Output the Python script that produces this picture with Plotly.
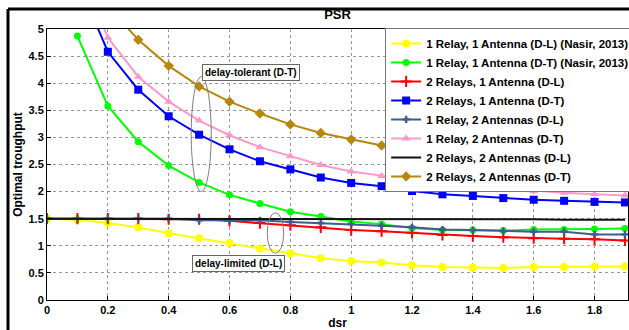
import plotly.graph_objects as go

dsr = [0.0, 0.1, 0.2, 0.3, 0.4, 0.5, 0.6, 0.7, 0.8, 0.9, 1.0,
       1.1, 1.2, 1.3, 1.4, 1.5, 1.6, 1.7, 1.8, 1.9]

r1a1_dl = [1.50, 1.48, 1.42, 1.34, 1.23, 1.14, 1.05, 0.95, 0.86, 0.77, 0.72,
           0.69, 0.64, 0.61, 0.60, 0.59, 0.61, 0.61, 0.62, 0.62]
r1a1_dt = [None, 4.87, 3.58, 2.92, 2.48, 2.17, 1.94, 1.78, 1.63, 1.54, 1.45,
           1.40, 1.33, 1.29, 1.29, 1.28, 1.30, 1.30, 1.31, 1.32]
r2a1_dl = [1.50, 1.50, 1.50, 1.50, 1.49, 1.49, 1.46, 1.42, 1.38, 1.34, 1.29,
           1.27, 1.24, 1.20, 1.18, 1.16, 1.14, 1.13, 1.12, 1.10]
r2a1_dt = [None, 5.90, 4.58, 3.88, 3.39, 3.05, 2.78, 2.56, 2.41, 2.26, 2.16,
           2.10, 2.01, 1.95, 1.92, 1.88, 1.85, 1.83, 1.81, 1.80]
r1a2_dl = [1.50, 1.50, 1.50, 1.50, 1.50, 1.47, 1.47, 1.47, 1.44, 1.42, 1.40,
           1.37, 1.34, 1.30, 1.29, 1.27, 1.26, 1.26, 1.21, 1.21]
r1a2_dt = [None, 6.20, 4.84, 4.12, 3.66, 3.31, 3.04, 2.82, 2.65, 2.49, 2.37,
           2.29, 2.21, 2.14, 2.10, 2.06, 2.01, 1.98, 1.95, 1.93]
r2a2_dl = [1.50, 1.50, 1.50, 1.50, 1.50, 1.50, 1.50, 1.50, 1.50, 1.50, 1.50,
           1.50, 1.50, 1.50, 1.49, 1.49, 1.49, 1.48, 1.48, 1.48]
r2a2_dt = [None, 6.80, 5.43, 4.80, 4.32, 3.94, 3.66, 3.44, 3.24, 3.08, 2.96,
           2.85, 2.77, 2.68, 2.59, 2.53, 2.47, 2.42, 2.36, 2.30]

names = ["1 Relay, 1 Antenna (D-L) (Nasir, 2013)",
         "1 Relay, 1 Antenna (D-T) (Nasir, 2013)",
         "2 Relays, 1 Antenna (D-L)",
         "2 Relays, 1 Antenna (D-T)",
         "1 Relay, 2 Antennas (D-L)",
         "1 Relay, 2 Antennas (D-T)",
         "2 Relays, 2 Antennas (D-L)",
         "2 Relays, 2 Antennas (D-T)"]
series = [r1a1_dl, r1a1_dt, r2a1_dl, r2a1_dt, r1a2_dl, r1a2_dt, r2a2_dl, r2a2_dt]
colors = ["#FFFF00", "#00FF00", "#FF0000", "#0000FF", "#3F5B8F", "#FF99CC", "#111111", "#B8860B"]
symbols = ["circle", "circle", "cross-thin", "square", "cross", "triangle-up", None, "diamond"]
msizes = [8, 7, 8, 8, 6, 8, 0, 8]

FONT = "Liberation Sans, Arial, sans-serif"

fig = go.Figure()
for nm, ys, c, s, ms in zip(names, series, colors, symbols, msizes):
    if s is None:
        fig.add_trace(go.Scatter(x=dsr, y=ys, name=nm, mode="lines",
                                 line=dict(color=c, width=2)))
    else:
        fig.add_trace(go.Scatter(x=dsr, y=ys, name=nm, mode="lines+markers",
                                 line=dict(color=c, width=2),
                                 marker=dict(symbol=s, size=ms, color=c,
                                             line=dict(color=c, width=2 if s == "cross-thin" else 0))))

fig.update_layout(
    width=629, height=330,
    margin=dict(l=47, r=1, t=29, b=30, autoexpand=False),
    paper_bgcolor="white", plot_bgcolor="white",
    font=dict(family=FONT, size=11, color="black", weight="bold"),
    title=dict(text="PSR", x=0.5, xref="paper", y=0.955, yref="container",
               xanchor="center", yanchor="middle",
               font=dict(family=FONT, size=13, color="black", weight="bold")),
    showlegend=True,
    legend=dict(x=0.582, y=1.004, xanchor="left", yanchor="top",
                bgcolor="white", bordercolor="#777777", borderwidth=1,
                font=dict(family=FONT, size=11.5, color="black", weight="bold"),
                tracegroupgap=0, itemwidth=30),
    xaxis=dict(range=[0, 1.91], tickvals=[0, 0.2, 0.4, 0.6, 0.8, 1, 1.2, 1.4, 1.6, 1.8],
               ticktext=["0", "0.2", "0.4", "0.6", "0.8", "1", "1.2", "1.4", "1.6", "1.8"],
               showgrid=True, gridcolor="#999999", griddash="dot", gridwidth=1,
               showline=True, linecolor="black", linewidth=1, mirror=True,
               ticks="inside", ticklen=4, tickcolor="black",
               zeroline=False,
               title=dict(text="dsr", standoff=4, font=dict(size=12, weight="bold"))),
    yaxis=dict(range=[0, 5], tickvals=[0, 0.5, 1, 1.5, 2, 2.5, 3, 3.5, 4, 4.5, 5],
               ticktext=["0", "0.5", "1", "1.5", "2", "2.5", "3", "3.5", "4", "4.5", "5"],
               showgrid=True, gridcolor="#999999", griddash="dot", gridwidth=1,
               showline=True, linecolor="black", linewidth=1, mirror=True,
               ticks="inside", ticklen=4, tickcolor="black",
               zeroline=False,
               title=dict(text="Optimal troughput", standoff=3, font=dict(size=12, weight="bold"))),
)

# ellipses marking groups
fig.add_shape(type="circle", xref="x", yref="y", x0=0.474, x1=0.540, y0=2.0, y1=4.12,
              line=dict(color="#808080", width=1), layer="above")
fig.add_shape(type="circle", xref="x", yref="y", x0=0.724, x1=0.778, y0=0.86, y1=1.61,
              line=dict(color="#808080", width=1), layer="above")

fig.add_annotation(x=0.672, y=4.19, xref="x", yref="y", text="delay-tolerant (D-T)",
                   showarrow=False, bgcolor="white", bordercolor="#666666", borderwidth=1,
                   borderpad=2, font=dict(family=FONT, size=10, color="black", weight="bold"))
fig.add_annotation(x=0.628, y=0.68, xref="x", yref="y", text="delay-limited (D-L)",
                   showarrow=False, bgcolor="white", bordercolor="#666666", borderwidth=1,
                   borderpad=2, font=dict(family=FONT, size=10, color="black", weight="bold"))

# outer figure frame
fx = (8 - 47) / 581
fy = (300 - 9) / 271
fig.add_shape(type="line", xref="paper", yref="paper", x0=fx, x1=1.2, y0=fy, y1=fy,
              line=dict(color="black", width=3), layer="above")
fig.add_shape(type="line", xref="paper", yref="paper", x0=fx, x1=fx, y0=fy, y1=-0.2,
              line=dict(color="black", width=3), layer="above")

fig.write_html("out.html")
